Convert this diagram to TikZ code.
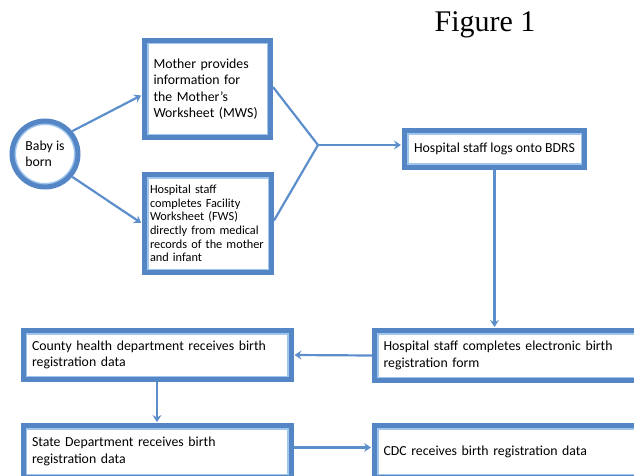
\documentclass[tikz,border=0pt]{standalone}
\usepackage{fontspec}
\setmainfont{Carlito}
\newfontfamily\titlefont{Liberation Serif}
\usetikzlibrary{arrows.meta,calc}
\definecolor{rimdark}{RGB}{84,134,198}
\definecolor{rimlight}{RGB}{160,198,238}
\definecolor{linkblue}{RGB}{92,142,204}
\begin{document}
\begin{tikzpicture}[x=1pt,y=-1pt,
  rim/.style={draw=rimdark, line width=5pt, fill=white},
  boxrim/.style={rim, path picture={\draw[rimlight, line width=8pt]
      (path picture bounding box.south west) rectangle (path picture bounding box.north east);}},
  stepbox/.style={boxrim, rectangle, inner xsep=9pt, inner ysep=4pt, align=left,
    font=\fontsize{13.8}{16.5}\selectfont},
  link/.style={draw=linkblue, line width=2.2pt},
  arr/.style={link, -{Stealth[length=7pt,width=9pt,inset=2.5pt]}, shorten >=1pt}]
\useasboundingbox (0,0) rectangle (634,476);
\clip (0,0) rectangle (634,476);

\node[font=\titlefont\fontsize{30}{32}\selectfont] (title) at (485,25) {Figure 1};

\node[rim, circle, minimum size=66pt, inner sep=0pt, align=left,
  path picture={\draw[rimlight, line width=8pt] (path picture bounding box.center) circle (33pt);},
  font=\fontsize{13.8}{16.5}\selectfont] (baby) at (45,154) {Baby is\\born};

\node[stepbox, minimum width=126pt, minimum height=97pt, text width=108pt] (mws) at (207.5,89)
  {Mother provides\\information for\\the Mother’s\\Worksheet (MWS)};
\node[stepbox, minimum width=127pt, minimum height=98pt, text width=116pt, inner xsep=4pt,
  font=\fontsize{12.3}{13.7}\selectfont] (fws) at (208,223.5)
  {Hospital staff\\completes Facility\\Worksheet (FWS)\\directly from medical\\records of the mother\\and infant};

\node[stepbox, minimum width=180pt, minimum height=36pt, align=center] (bdrs) at (494.5,149)
  {Hospital staff logs onto BDRS};

\node[stepbox, minimum width=268pt, minimum height=50pt, text width=250pt] (hosp) at (508.5,355.5)
  {Hospital staff completes electronic birth\\registration form};
\node[stepbox, minimum width=268pt, minimum height=49pt, text width=250pt] (county) at (157,355)
  {County health department receives birth\\registration data};
\node[stepbox, minimum width=268pt, minimum height=52pt, text width=250pt] (state) at (157,451.5)
  {State Department receives birth\\registration data};
\node[stepbox, minimum width=268pt, minimum height=52pt, text width=250pt] (cdc) at (508.5,451.5)
  {CDC receives birth registration data\\[12pt]};

% the two worksheets merge into one step
\coordinate (join) at (318,145);
\draw[arr] (baby.40) -- ([yshift=-6pt]mws.west);
\draw[arr] (baby.-40) -- (fws.west);
\draw[link] ([yshift=2pt]mws.east) -- (join) -- ([yshift=3pt]fws.east);
\draw[arr] (join) -- (join -| bdrs.west);
\draw[arr] (bdrs.south) -- (bdrs.south |- hosp.north);
\draw[arr] (hosp.west) -- (county.east);
\draw[arr] (county.south) -- (county.south |- state.north);
\draw[arr] ([yshift=4pt]state.east) -- ([yshift=4pt]state.east -| cdc.west);
\end{tikzpicture}
\end{document}
